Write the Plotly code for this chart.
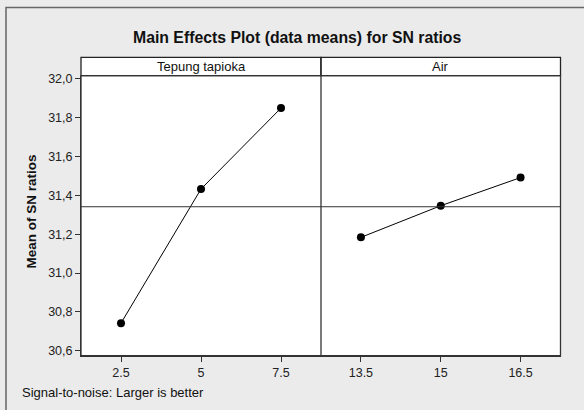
import numpy as np
import plotly.graph_objects as go

W, H = 584, 410

factor_names = ["Tepung tapioka", "Air"]
tapioka_levels = ["2.5", "5", "7.5"]
tapioka_sn = [30.742, 31.433, 31.850]
air_levels = ["13.5", "15", "16.5"]
air_sn = [31.184, 31.347, 31.492]
y_ticks = [30.6, 30.8, 31.0, 31.2, 31.4, 31.6, 31.8, 32.0]

grand_mean = float(np.mean(tapioka_sn))

FONT = "Liberation Sans, Arial, sans-serif"

def px(x):
    return x / W

def py(y):
    return (H - y) / H

left, mid, right = 81, 321, 560.5
top, bottom = 73.5, 357
strip_top = 55

fig = go.Figure()
fig.add_trace(go.Scatter(x=tapioka_levels, y=tapioka_sn, mode="lines+markers",
                         line=dict(color="black", width=1),
                         marker=dict(color="black", size=8),
                         xaxis="x", yaxis="y", showlegend=False))
fig.add_trace(go.Scatter(x=air_levels, y=air_sn, mode="lines+markers",
                         line=dict(color="black", width=1),
                         marker=dict(color="black", size=8),
                         xaxis="x2", yaxis="y2", showlegend=False))

yr = [30.6 - 5 / 196.5, 30.6 + (352 - top) / 196.5]
tickfont = dict(family=FONT, size=12.5, color="#222")
xcommon = dict(type="category", range=[-0.5, 2.5], showgrid=False, zeroline=False,
               ticks="outside", ticklen=5, tickcolor="#333", showline=True,
               linecolor="#333", linewidth=1, tickfont=tickfont)
fig.update_layout(
    width=W, height=H,
    margin=dict(l=0, r=0, t=0, b=0),
    paper_bgcolor="#ebebeb", plot_bgcolor="white",
    separators=",.",
    xaxis=dict(domain=[px(left), px(mid)], anchor="y", **xcommon),
    xaxis2=dict(domain=[px(mid), px(right)], anchor="y2", **xcommon),
    yaxis=dict(domain=[py(bottom), py(top)], range=yr, tickvals=y_ticks, tickformat=".1f",
               ticks="outside", ticklen=5, tickcolor="#333", showgrid=False, zeroline=False,
               showline=True, linecolor="#333", linewidth=1, tickfont=tickfont, anchor="x"),
    yaxis2=dict(domain=[py(bottom), py(top)], range=yr, showticklabels=False, ticks="",
                showgrid=False, zeroline=False, showline=False, anchor="x2"),
)

shapes = []
# plot area frame
shapes.append(dict(type="rect", xref="paper", yref="paper", x0=px(left), x1=px(right),
                   y0=py(bottom), y1=py(top), line=dict(color="#333", width=1.3)))
# divider
shapes.append(dict(type="line", xref="paper", yref="paper", x0=px(mid), x1=px(mid),
                   y0=py(bottom), y1=py(strip_top), line=dict(color="#333", width=1.3)))
# strips
for x0, x1 in [(left, mid), (mid, right)]:
    shapes.append(dict(type="rect", xref="paper", yref="paper", x0=px(x0), x1=px(x1),
                       y0=py(top), y1=py(strip_top), fillcolor="white",
                       line=dict(color="#222", width=1.3), layer="below"))
# grand mean reference line
shapes.append(dict(type="line", xref="paper", yref="y", x0=px(left), x1=px(right),
                   y0=grand_mean, y1=grand_mean, line=dict(color="#333", width=1)))
# outer frame (top & left visible)
shapes.append(dict(type="rect", xref="paper", yref="paper", x0=px(6), x1=1.05,
                   y0=-0.05, y1=py(4.5), line=dict(color="#666", width=1.5)))
fig.update_layout(shapes=shapes)

ann = []
ann.append(dict(text="<b>Main Effects Plot (data means) for SN ratios</b>", x=px(297), y=py(35),
                xref="paper", yref="paper", showarrow=False, xanchor="center", yanchor="middle",
                font=dict(family=FONT, size=15.8, color="#111")))
for name, (x0, x1) in zip(factor_names, [(left, mid), (mid, right)]):
    ann.append(dict(text=name, x=px((x0 + x1) / 2), y=py((top + strip_top) / 2),
                    xref="paper", yref="paper", showarrow=False, xanchor="center", yanchor="middle",
                    font=dict(family=FONT, size=13, color="#111")))
ann.append(dict(text="<b>Mean of SN ratios</b>", x=px(31), y=py(211), textangle=-90,
                xref="paper", yref="paper", showarrow=False, xanchor="center", yanchor="middle",
                font=dict(family=FONT, size=13.5, color="#111")))
ann.append(dict(text="Signal-to-noise: Larger is better", x=px(20), y=py(394),
                xref="paper", yref="paper", showarrow=False, xanchor="left", yanchor="middle",
                font=dict(family=FONT, size=13, color="#111")))
fig.update_layout(annotations=ann)

fig.write_html("out.html", config={"displayModeBar": False},
               post_script="document.body.style.margin='0px';")
